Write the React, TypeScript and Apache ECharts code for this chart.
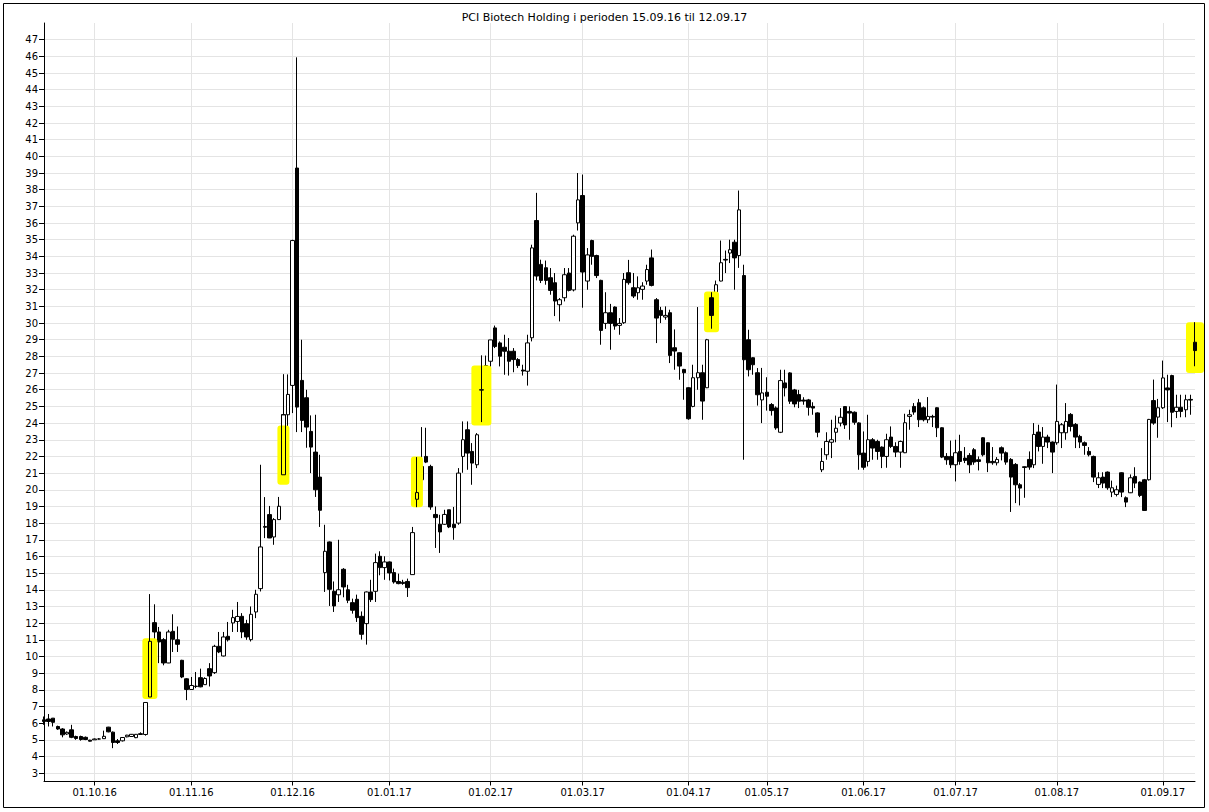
import React, { useEffect, useRef } from "react";
import * as echarts from "echarts";

const TITLE = "PCI Biotech Holding i perioden 15.09.16 til 12.09.17";

// Month boundaries (trading-day index of first session in each month) and their tick labels
const MONTH_START = [11, 32, 54, 75, 97, 117, 140, 157, 178, 198, 220, 243];
const MONTH_LABELS = [
  "01.10.16", "01.11.16", "01.12.16", "01.01.17", "01.02.17", "01.03.17",
  "01.04.17", "01.05.17", "01.06.17", "01.07.17", "01.08.17", "01.09.17",
];

// Daily OHLC (trading days 16.09.16 .. 12.09.17)
const OPEN = [
  6.2, 6.25, 6.3, 5.8, 5.65, 5.35, 5.6, 5.2, 5.2, 5.15,
  4.98, 5.0, 5.05, 5.07, 5.76, 5.46, 4.94, 4.94, 5.18, 5.2,
  5.13, 5.32, 5.32, 7.57, 12.03, 11.47, 11.01, 9.61, 11.51, 11.0,
  9.77, 8.66, 8.02, 8.2, 8.73, 8.31, 9.27, 9.03, 10.61, 10.03,
  11.21, 12.01, 12.1, 12.41, 11.97, 11.01, 12.67, 14.07, 17.8, 18.51,
  17.17, 18.21, 20.9, 24.5, 26.26, 39.3, 26.56, 25.52, 23.5, 22.26,
  20.76, 15.03, 16.87, 13.91, 13.7, 15.23, 14.0, 13.23, 13.43, 12.41,
  11.97, 13.87, 13.91, 16.01, 15.33, 15.67, 15.03, 14.5, 14.45, 14.5,
  14.91, 19.43, 20.6, 22.0, 21.4, 18.52, 17.93, 17.93, 18.8, 17.93,
  18.0, 22.0, 23.6, 22.3, 21.5, 26.0, 26.51, 27.71, 29.71, 28.81,
  28.55, 28.31, 28.31, 27.81, 27.18, 27.11, 29.12, 36.15, 33.52, 33.32,
  32.72, 32.42, 31.1, 31.52, 33.0, 31.99, 36.01, 37.65, 32.52, 34.95,
  34.05, 32.56, 29.98, 30.62, 30.96, 29.86, 30.02, 33.02, 32.12, 31.82,
  32.02, 32.52, 33.91, 31.4, 30.76, 30.36, 30.62, 28.52, 28.22, 27.22,
  26.12, 25.0, 26.72, 27.02, 26.12, 31.52, 30.6, 32.52, 33.82, 34.2,
  34.85, 34.05, 32.85, 29.0, 27.92, 27.02, 25.39, 25.85, 25.11, 24.91,
  23.45, 26.41, 27.01, 25.99, 25.71, 25.38, 25.39, 25.0, 24.61, 21.2,
  22.1, 22.85, 23.45, 24.0, 24.99, 24.7, 24.65, 24.01, 22.2, 21.7,
  23.0, 22.9, 22.56, 22.0, 23.16, 22.6, 22.26, 22.22, 24.4, 25.0,
  25.22, 24.92, 24.2, 24.4, 24.92, 23.72, 22.0, 22.0, 21.5, 22.3,
  21.9, 22.06, 22.4, 21.8, 23.12, 22.82, 21.7, 21.62, 22.52, 22.22,
  21.82, 21.52, 20.3, 21.38, 21.82, 21.5, 23.46, 22.6, 23.16, 22.86,
  22.82, 23.42, 23.42, 24.52, 23.92, 23.2, 22.82, 22.3, 22.0, 20.32,
  20.76, 21.06, 19.86, 19.72, 21.02, 19.52, 19.82, 20.8, 20.46, 20.6,
  20.6, 25.35, 24.36, 24.92, 26.11, 26.85, 24.7, 24.95, 24.8, 25.42,
  28.85,
];
const CLOSE = [
  6.1, 6.1, 6.05, 5.65, 5.3, 5.45, 5.15, 5.08, 5.02, 5.02,
  4.92, 5.05, 5.05, 5.21, 5.48, 4.84, 4.84, 5.14, 5.28, 5.33,
  5.33, 5.37, 7.24, 10.91, 11.47, 10.87, 9.61, 11.47, 11.03, 10.73,
  8.77, 8.02, 8.26, 8.22, 8.18, 8.68, 8.83, 10.61, 10.27, 11.17,
  11.0, 12.33, 12.4, 11.47, 11.17, 12.53, 13.73, 16.57, 17.75, 17.11,
  18.21, 19.01, 24.5, 25.72, 34.95, 24.96, 24.16, 23.76, 22.56, 20.0,
  18.77, 16.31, 14.03, 13.03, 14.0, 14.17, 13.37, 12.77, 12.33, 11.33,
  13.87, 13.41, 15.63, 15.33, 15.67, 15.01, 14.47, 14.37, 14.38, 14.13,
  17.43, 19.83, 21.4, 21.66, 18.97, 18.33, 17.47, 18.52, 17.77, 17.73,
  21.0, 23.0, 22.2, 21.6, 23.3, 25.98, 27.45, 28.99, 28.59, 28.01,
  28.31, 27.71, 27.81, 27.45, 27.12, 28.81, 34.51, 32.82, 32.56, 32.56,
  31.96, 31.32, 31.4, 32.9, 31.96, 35.21, 37.39, 33.06, 34.09, 34.0,
  32.85, 29.56, 30.62, 29.98, 29.82, 29.98, 32.62, 32.42, 31.62, 32.12,
  32.22, 33.21, 32.26, 30.3, 30.46, 30.46, 28.06, 28.32, 27.42, 27.02,
  24.26, 26.72, 27.02, 25.32, 29.0, 30.46, 32.3, 33.62, 33.78, 34.4,
  33.91, 36.79, 27.8, 27.2, 27.5, 25.7, 25.81, 25.61, 24.75, 23.71,
  26.55, 26.11, 25.31, 25.15, 25.31, 25.32, 24.95, 24.9, 23.45, 21.7,
  22.9, 23.0, 23.69, 24.35, 23.89, 24.6, 24.05, 22.1, 21.35, 23.0,
  22.5, 22.3, 22.0, 23.0, 22.6, 22.26, 22.9, 24.02, 24.5, 24.66,
  24.2, 24.2, 24.4, 24.36, 23.72, 21.96, 21.8, 21.5, 22.22, 21.7,
  21.76, 21.5, 21.66, 21.7, 22.1, 21.62, 21.62, 21.82, 22.2, 21.66,
  20.76, 20.3, 20.1, 21.34, 21.36, 23.32, 22.6, 23.16, 22.86, 22.26,
  24.1, 23.9, 24.1, 23.8, 23.16, 22.86, 22.66, 22.1, 20.76, 20.72,
  20.4, 20.12, 20.12, 20.0, 19.86, 19.26, 20.72, 20.4, 19.66, 18.76,
  24.22, 24.0, 24.92, 26.71, 25.99, 24.65, 24.95, 24.7, 25.4, 25.38,
  28.35,
];
const LOW = [
  5.9, 5.8, 5.8, 5.6, 5.15, 5.3, 5.1, 5.0, 4.95, 4.98,
  4.9, 5.0, 5.02, 5.05, 5.45, 4.5, 4.75, 4.9, 5.15, 5.18,
  5.1, 5.3, 5.25, 7.57, 9.87, 9.6, 9.47, 9.6, 10.27, 10.27,
  8.7, 7.38, 8.0, 8.1, 8.15, 8.3, 8.2, 8.95, 10.2, 10.0,
  10.9, 11.47, 11.47, 11.1, 11.0, 10.9, 12.3, 13.9, 17.1, 17.1,
  16.7, 18.2, 20.9, 22.96, 24.6, 23.46, 23.46, 22.52, 21.0, 19.57,
  17.77, 13.87, 13.03, 12.67, 13.27, 13.55, 13.2, 12.57, 12.07, 11.01,
  10.71, 13.27, 13.27, 14.87, 14.6, 14.56, 14.37, 14.33, 14.3, 13.57,
  14.9, 18.96, 20.46, 21.6, 18.8, 16.51, 16.21, 17.9, 17.7, 17.0,
  17.9, 21.02, 21.2, 20.3, 21.3, 24.06, 25.65, 26.5, 28.5, 27.4,
  26.9, 26.85, 27.05, 27.3, 26.85, 26.25, 28.9, 32.56, 32.4, 32.3,
  31.7, 30.42, 30.1, 31.3, 31.9, 31.9, 35.55, 30.92, 32.0, 33.5,
  32.7, 28.7, 29.65, 28.4, 29.6, 29.3, 29.95, 32.3, 31.5, 31.4,
  31.4, 32.3, 32.2, 28.8, 30.0, 30.2, 27.6, 27.2, 26.6, 25.4,
  24.2, 24.95, 26.0, 24.2, 26.1, 29.66, 30.5, 32.5, 33.0, 33.6,
  32.0, 33.31, 21.8, 26.8, 26.9, 25.05, 24.0, 24.75, 24.45, 23.6,
  23.4, 25.6, 25.15, 24.95, 24.9, 25.1, 24.45, 24.5, 23.15, 21.06,
  21.8, 21.9, 22.85, 23.8, 23.65, 23.0, 23.9, 21.2, 21.2, 21.4,
  21.8, 21.8, 21.3, 21.32, 22.5, 21.96, 21.32, 22.2, 23.6, 24.5,
  23.76, 24.1, 24.0, 23.76, 23.16, 21.9, 21.5, 21.3, 20.5, 21.5,
  21.6, 21.0, 21.5, 21.16, 22.0, 21.06, 21.5, 21.46, 21.76, 21.5,
  18.67, 19.2, 19.06, 19.52, 21.2, 21.3, 22.3, 21.56, 22.5, 21.0,
  22.7, 22.5, 23.0, 23.5, 22.5, 22.5, 22.1, 22.0, 20.46, 20.1,
  20.1, 20.0, 19.56, 19.6, 19.56, 18.96, 19.8, 20.1, 19.56, 18.75,
  20.55, 23.9, 23.12, 24.85, 24.06, 23.75, 24.3, 24.35, 24.35, 24.5,
  27.41,
];
const HIGH = [
  6.4, 6.55, 6.3, 5.85, 5.7, 5.5, 5.9, 5.25, 5.25, 5.2,
  5.0, 5.08, 5.1, 5.55, 5.78, 5.5, 5.05, 5.15, 5.3, 5.35,
  5.35, 5.45, 7.24, 13.73, 13.13, 11.77, 11.1, 11.6, 12.53, 11.8,
  9.8, 8.7, 8.77, 9.07, 9.27, 8.75, 9.6, 10.7, 11.47, 11.47,
  12.07, 12.8, 13.27, 12.6, 12.2, 13.0, 14.0, 21.5, 19.56, 19.03,
  18.3, 19.57, 26.92, 26.92, 35.0, 45.94, 29.0, 26.0, 24.46, 24.5,
  22.1, 17.9, 16.9, 14.5, 17.0, 15.3, 14.3, 13.47, 13.71, 12.7,
  13.9, 14.6, 16.17, 16.31, 16.01, 15.7, 15.27, 14.97, 14.6, 14.67,
  17.77, 21.96, 23.76, 23.72, 21.5, 19.0, 18.5, 18.8, 18.8, 18.97,
  21.3, 24.1, 24.1, 22.8, 23.4, 28.05, 28.05, 29.0, 29.85, 28.9,
  29.3, 29.1, 28.5, 27.9, 27.5, 29.3, 34.7, 37.81, 33.8, 33.75,
  33.3, 33.0, 31.5, 33.3, 33.3, 35.3, 39.0, 38.91, 34.5, 35.0,
  34.1, 32.6, 31.85, 31.15, 31.0, 30.3, 33.0, 33.79, 33.0, 32.8,
  32.45, 33.5, 34.41, 31.5, 30.97, 31.0, 30.8, 29.62, 28.25, 27.25,
  26.15, 27.5, 30.96, 27.5, 29.05, 31.85, 32.55, 34.95, 34.35, 35.0,
  35.0, 37.95, 33.5, 29.6, 27.95, 27.3, 27.31, 26.75, 25.2, 25.0,
  27.2, 27.2, 27.05, 26.05, 25.99, 25.55, 25.45, 25.25, 24.65, 22.5,
  23.45, 24.2, 24.45, 24.9, 25.0, 25.0, 24.7, 24.05, 23.5, 24.5,
  23.1, 23.0, 22.6, 23.36, 23.8, 22.85, 22.95, 24.56, 24.8, 25.2,
  25.45, 25.0, 25.56, 24.5, 24.95, 23.75, 22.2, 22.95, 23.0, 23.3,
  22.56, 22.2, 22.5, 22.0, 23.15, 22.85, 22.56, 21.96, 22.6, 22.3,
  21.9, 21.6, 20.4, 21.4, 22.3, 24.0, 23.9, 23.76, 23.3, 22.9,
  26.31, 24.0, 25.2, 24.6, 24.0, 23.3, 22.9, 22.56, 22.05, 21.05,
  21.05, 21.1, 20.55, 20.25, 21.05, 19.6, 20.92, 21.35, 20.5, 20.65,
  24.25, 26.61, 25.45, 27.75, 26.9, 26.9, 25.7, 25.7, 25.7, 25.7,
  30.05,
];

// Highlighter marks (trading-day index, low and high value of the mark)
const HL_INDEX = [23, 52, 81, 95, 145, 250];
const HL_LOW = [7.45, 20.3, 18.95, 23.85, 29.45, 27.0];
const HL_HIGH = [11.1, 23.86, 22.0, 27.45, 31.9, 30.05];
const HL_WIDTH_PX = [15, 12, 12, 20, 15, 18];

const FONT = "DejaVu Sans";

export default function App() {
  const ref = useRef<HTMLDivElement>(null);

  useEffect(() => {
    document.body.style.margin = "0";
    if (!ref.current) return;
    const chart = echarts.init(ref.current, undefined, { renderer: "svg" });

    const n = OPEN.length;
    const categories = Array.from({ length: n }, (_, i) => String(i));
    const candles = OPEN.map((o, i) => [o, CLOSE[i], LOW[i], HIGH[i]]);
    const hlCandles = HL_INDEX.map((k) => [k, OPEN[k], CLOSE[k], LOW[k], HIGH[k]]);
    const hlData = HL_INDEX.map((k, j) => [k, HL_LOW[j], HL_HIGH[j], j]);
    const isMonth = (i: number) => MONTH_START.indexOf(i) >= 0;

    chart.setOption({
      animation: false,
      backgroundColor: "#fff",
      title: {
        text: TITLE,
        left: "center",
        top: 7,
        textStyle: { fontFamily: FONT, fontSize: 11, fontWeight: "normal", color: "#000" },
      },
      graphic: [
        {
          type: "rect",
          shape: { x: 3.5, y: 3.5, width: 1201, height: 804 },
          style: { fill: "none", stroke: "#000", lineWidth: 1 },
          z: 100,
        },
      ],
      grid: { left: 44, right: 14, top: 23, bottom: 30.5, containLabel: false },
      xAxis: {
        type: "category",
        data: categories,
        boundaryGap: false,
        axisLine: { lineStyle: { color: "#000", width: 1 } },
        axisTick: { show: true, interval: (i: number) => isMonth(i), length: 4, lineStyle: { color: "#000" } },
        axisLabel: {
          interval: (i: number) => isMonth(i),
          formatter: (_v: string, i: number) => {
            const j = MONTH_START.indexOf(i);
            return j >= 0 ? MONTH_LABELS[j] : "";
          },
          fontFamily: FONT,
          fontSize: 10,
          color: "#000",
          margin: 6,
        },
        splitLine: { show: true, interval: (i: number) => isMonth(i), lineStyle: { color: "#e4e4e4", width: 1 } },
      },
      yAxis: {
        type: "value",
        min: 2.5,
        max: 48,
        splitNumber: 45,
        minInterval: 1,
        maxInterval: 1,
        axisLine: { show: true, lineStyle: { color: "#000", width: 1 } },
        axisTick: { show: true, length: 5, lineStyle: { color: "#000" } },
        axisLabel: {
          showMinLabel: false,
          showMaxLabel: false,
          formatter: (v: number) => {
            const r = Math.round(v);
            return Math.abs(v - r) < 1e-6 && r >= 3 && r <= 47 ? String(r) : "";
          },
          fontFamily: FONT,
          fontSize: 10,
          color: "#000",
          margin: 6,
        },
        splitLine: { show: true, showMinLine: false, showMaxLine: false, lineStyle: { color: "#e4e4e4", width: 1 } },
      },
      series: [
        {
          type: "candlestick",
          name: "kurs",
          data: candles,
          barWidth: 4,
          clip: false,
          z: 2,
          itemStyle: { color: "#fff", color0: "#000", borderColor: "#000", borderColor0: "#000", borderWidth: 1 },
        },
        {
          type: "custom",
          name: "markering",
          data: hlData,
          clip: false,
          z: 3,
          encode: { x: 0, y: [1, 2] },
          renderItem: (_p: any, api: any) => {
            const k = api.value(0);
            const top = api.coord([k, api.value(2)]);
            const bot = api.coord([k, api.value(1)]);
            const w = HL_WIDTH_PX[api.value(3)];
            return {
              type: "rect",
              shape: { x: top[0] - w / 2, y: top[1], width: w, height: bot[1] - top[1], r: 3 },
              style: { fill: "#ffff00" },
            };
          },
        },
        {
          type: "candlestick",
          name: "kurs-markert",
          data: hlCandles,
          encode: { x: 0, y: [1, 2, 3, 4] },
          barWidth: 4,
          clip: false,
          z: 4,
          itemStyle: { color: "rgba(0,0,0,0)", color0: "#000", borderColor: "#000", borderColor0: "#000", borderWidth: 1 },
        },
      ],
    });

    return () => chart.dispose();
  }, []);

  return (
    <div
      ref={ref}
      style={{ position: "absolute", left: 0, top: 0, width: 1209, height: 812 }}
    />
  );
}
